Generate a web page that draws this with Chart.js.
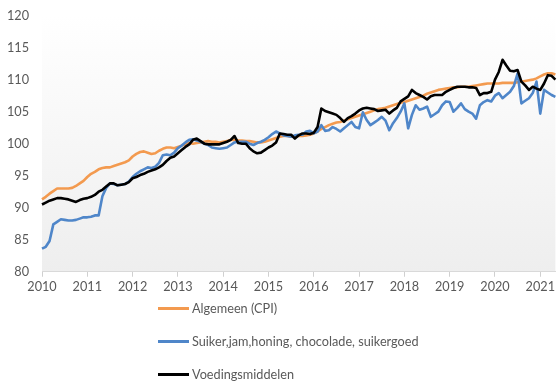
<!DOCTYPE html>
<html>
<head>
<meta charset="utf-8">
<script src="https://cdn.jsdelivr.net/npm/chart.js@4.4.1/dist/chart.umd.min.js"></script>
<style>
    html, body { margin: 0; padding: 0; background: #fff; }
    #wrap { position: relative; width: 558px; height: 381px; overflow: hidden; }
    #chart { position: absolute; left: 0; top: -5px; }
    #legend { position: absolute; left: 158px; top: 298px; font: 12.7px Lato, sans-serif; color: #595959; }
    .item { display: flex; align-items: center; height: 20px; margin-bottom: 13px; white-space: nowrap; }
    .swatch { width: 31px; height: 3px; margin-right: 3px; }
</style>
</head>
<body>
<div id="wrap">
    <canvas id="chart" width="558" height="305"></canvas>
    <div id="legend"></div>
</div>
<script>
// index, 2010 = jan..., maandcijfers t/m mei 2021
const years = ['2010', '2011', '2012', '2013', '2014', '2015', '2016', '2017', '2018', '2019', '2020', '2021'];
const monthsInLastYear = 5;

const seriesNames = ['Algemeen (CPI)', 'Suiker,jam,honing, chocolade, suikergoed', 'Voedingsmiddelen'];
const seriesColors = ['#f39a4f', '#4f86c9', '#000000'];

const algemeen = [
    91.3, 91.7, 92.2, 92.6, 93.0, 93.0, 93.0, 93.0, 93.1, 93.4, 93.8, 94.2,
    94.8, 95.3, 95.6, 96.0, 96.2, 96.3, 96.3, 96.5, 96.7, 96.9, 97.1, 97.4,
    98.0, 98.4, 98.7, 98.8, 98.6, 98.4, 98.5, 98.9, 99.2, 99.4, 99.4, 99.3,
    99.5, 99.7, 99.9, 100.1, 100.0, 100.1, 100.2, 100.3, 100.4, 100.3, 100.3, 100.2,
    100.3, 100.4, 100.6, 100.6, 100.5, 100.5, 100.4, 100.4, 100.3, 100.2, 100.2, 100.3,
    100.5, 100.7, 100.9, 101.1, 101.2, 101.2, 101.1, 101.1, 101.2, 101.2, 101.3, 101.4,
    101.6, 101.9, 102.3, 102.6, 102.9, 103.1, 103.3, 103.4, 103.6, 103.8, 104.0, 104.2,
    104.4, 104.6, 104.8, 105.0, 105.2, 105.4, 105.5, 105.6, 105.8, 106.0, 106.2, 106.4,
    106.5, 106.7, 106.9, 107.1, 107.3, 107.5, 107.8, 108.0, 108.2, 108.4, 108.5, 108.6,
    108.7, 108.8, 108.8, 108.9, 108.9, 108.9, 109.0, 109.1, 109.2, 109.3, 109.4, 109.4,
    109.4, 109.4, 109.5, 109.5, 109.5, 109.5, 109.6, 109.7, 109.8, 109.9, 110.0, 110.2,
    110.5, 110.8, 111.0, 111.0, 110.8
];

const suiker = [
    83.6, 83.9, 84.8, 87.4, 87.8, 88.2, 88.1, 88.0, 88.0, 88.1, 88.3, 88.5,
    88.5, 88.6, 88.8, 88.8, 91.8, 93.1, 93.8, 93.7, 93.5, 93.6, 93.7, 94.1,
    94.8, 95.3, 95.7, 96.0, 96.3, 96.2, 96.4, 97.0, 98.2, 98.3, 98.2, 98.6,
    99.3, 99.7, 100.2, 100.6, 100.7, 100.5, 100.3, 100.0, 99.8, 99.4, 99.3, 99.2,
    99.3, 99.4, 99.8, 100.2, 100.3, 100.3, 100.3, 100.0, 99.8, 100.1, 100.3, 100.6,
    101.0, 101.5, 101.9, 101.6, 101.3, 101.2, 101.1, 101.3, 101.4, 101.4, 101.9, 102.0,
    101.6, 101.9, 102.9, 102.0, 102.1, 102.6, 102.3, 101.9, 102.4, 102.9, 103.4, 102.6,
    102.4, 104.9, 103.7, 102.9, 103.3, 103.7, 104.2, 103.6, 102.1, 103.2, 104.0, 105.0,
    106.3, 102.4, 104.5, 106.0, 105.3, 105.5, 105.8, 104.2, 104.6, 105.0, 106.0, 106.6,
    106.5, 105.0, 105.6, 106.3, 105.4, 105.0, 104.7, 103.9, 106.0, 106.5, 106.8, 106.6,
    107.5, 107.9, 107.1, 107.6, 108.1, 109.0, 111.0, 106.3, 106.7, 107.1, 107.9, 109.7,
    104.7, 108.4, 108.0, 107.6, 107.3
];

const voeding = [
    90.5, 90.8, 91.1, 91.3, 91.5, 91.5, 91.4, 91.3, 91.1, 90.9, 91.2, 91.4,
    91.5, 91.7, 92.0, 92.5, 92.8, 93.3, 93.8, 93.8, 93.5, 93.6, 93.7, 94.0,
    94.6, 94.8, 95.1, 95.3, 95.6, 95.8, 96.0, 96.3, 96.7, 97.3, 97.8, 98.0,
    98.5, 99.0, 99.5, 99.9, 100.6, 100.8, 100.4, 100.0, 99.9, 99.9, 99.9, 99.9,
    100.1, 100.3, 100.6, 101.2, 100.1, 100.0, 100.0, 99.3, 98.8, 98.5, 98.6, 99.0,
    99.4, 99.7, 100.2, 101.6, 101.5, 101.4, 101.4, 100.8, 101.3, 101.6, 101.6, 101.5,
    101.7, 102.6, 105.5, 105.1, 104.9, 104.7, 104.5, 104.0, 103.4, 104.0, 104.3, 104.7,
    105.2, 105.5, 105.6, 105.5, 105.4, 105.1, 105.2, 105.3, 104.7, 105.2, 105.6, 106.6,
    107.0, 107.4, 108.4, 107.9, 107.6, 107.3, 106.9, 107.4, 107.6, 107.6, 107.6, 108.1,
    108.4, 108.7, 108.9, 108.9, 108.9, 108.8, 108.8, 108.7, 107.6, 107.9, 107.9, 108.1,
    110.0, 111.2, 113.1, 112.2, 111.4, 111.3, 111.5, 109.7, 109.1, 108.4, 108.9, 108.6,
    108.4, 109.4, 110.7, 110.6, 110.0
];

// one category per month, the year only on january
const labels = [];
years.forEach((y, i) => {
    const n = i === years.length - 1 ? monthsInLastYear : 12;
    for (let m = 1; m <= n; m++) labels.push(y + '-' + String(m).padStart(2, '0'));
});

const textColor = '#595959';
const font = { family: 'Lato, sans-serif', size: 12.7 };

// licht verloop achter het plotvlak
const plotShade = {
    id: 'plotShade',
    beforeDraw(chart) {
        const { ctx, chartArea: a } = chart;
        const g = ctx.createLinearGradient(0, a.top, 0, a.bottom);
        g.addColorStop(0, '#ffffff');
        g.addColorStop(1, '#eeeeee');
        ctx.save();
        ctx.fillStyle = g;
        ctx.fillRect(a.left, a.top, a.right - a.left, a.bottom - a.top);
        ctx.restore();
    }
};

const series = [algemeen, suiker, voeding];

new Chart(document.getElementById('chart'), {
    type: 'line',
    data: {
        labels: labels,
        datasets: series.map((s, i) => ({
            label: seriesNames[i],
            data: s,
            borderColor: seriesColors[i],
            backgroundColor: seriesColors[i],
            borderWidth: 2.6,
            pointRadius: 0,
            tension: 0,
            borderJoinStyle: 'round',
            order: 3 - i
        }))
    },
    options: {
        responsive: false,
        animation: false,
        layout: { padding: { top: 0, left: 0, right: 0, bottom: 2 } },
        plugins: { legend: { display: false }, tooltip: { enabled: false } },
        scales: {
            x: {
                offset: false,
                grid: { drawOnChartArea: false, tickLength: 5, color: '#d0d0d0' },
                border: { color: '#d9d9d9' },
                ticks: {
                    autoSkip: false,
                    maxRotation: 0,
                    color: textColor,
                    font: font,
                    padding: 3,
                    callback: function (v, i) {
                        const l = labels[i];
                        return l.endsWith('-01') ? l.slice(0, 4) : null;
                    }
                }
            },
            y: {
                min: 80,
                max: 120,
                grid: { display: false, drawTicks: false },
                border: { display: false },
                ticks: { stepSize: 5, color: textColor, font: font, padding: 13 },
                afterFit(scale) { scale.width = 42; }
            }
        }
    },
    plugins: [plotShade]
});

// legenda, een regel per reeks
const legend = document.getElementById('legend');
seriesNames.forEach((name, i) => {
    const row = document.createElement('div');
    row.className = 'item';
    row.innerHTML = '<span class="swatch" style="background:' + seriesColors[i] + '"></span>' + name;
    legend.appendChild(row);
});
</script>
</body>
</html>
